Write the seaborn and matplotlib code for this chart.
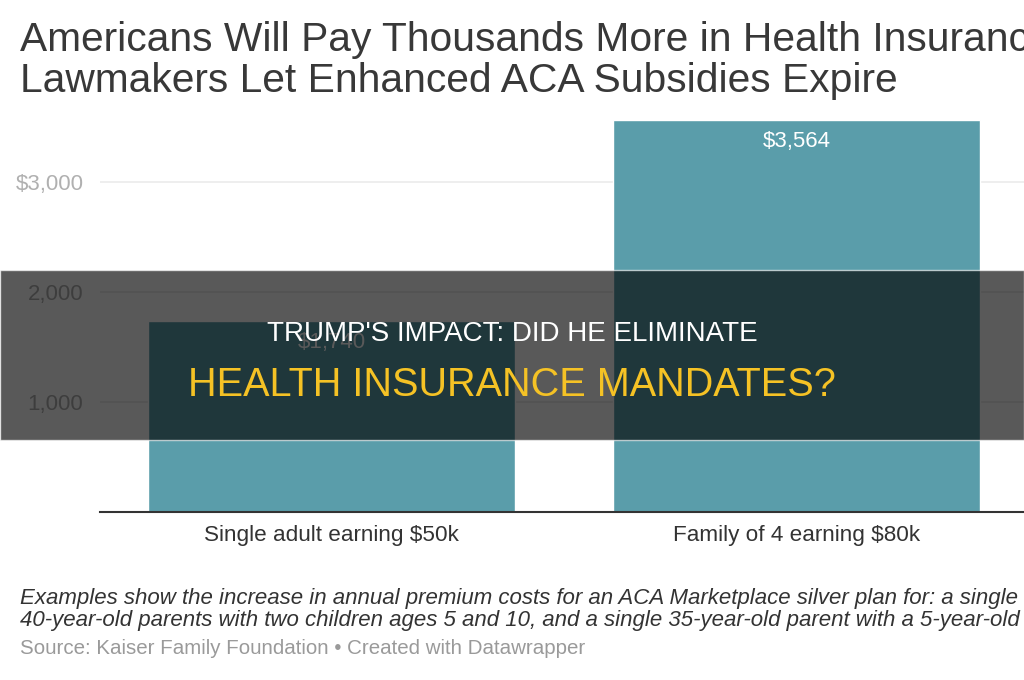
import matplotlib
matplotlib.use("Agg")
import matplotlib.pyplot as plt
from matplotlib.patches import Rectangle
import seaborn as sns

# data
categories = ["Single adult earning $50k", "Family of 4 earning $80k"]
increase = [1740, 3564]
y_ticks = [1000, 2000, 3000]
y_tick_labels = ["1,000", "2,000", "$3,000"]

title_lines = ["Americans Will Pay Thousands More in Health Insurance if",
               "Lawmakers Let Enhanced ACA Subsidies Expire"]
note_lines = ["Examples show the increase in annual premium costs for an ACA Marketplace silver plan for: a single 50-year-old earning $50k, two",
              "40-year-old parents with two children ages 5 and 10, and a single 35-year-old parent with a 5-year-old child"]
source = "Source: Kaiser Family Foundation \u2022 Created with Datawrapper"
banner_top = "TRUMP'S IMPACT: DID HE ELIMINATE"
banner_bottom = "HEALTH INSURANCE MANDATES?"

sns.set_theme(style="white")
plt.rcParams["font.family"] = ["Liberation Sans", "DejaVu Sans"]

W, H = 1024, 680
fig = plt.figure(figsize=(W / 100, H / 100), dpi=100)
fig.patch.set_facecolor("white")

# axes placed in pixel terms: left 100, bottom at y=512, top at y=112
ax = fig.add_axes([100 / W, (H - 512) / H, (W - 100) / W, 400 / H])
sns.barplot(x=categories, y=increase, color="#5a9daa", saturation=1,
            width=0.79, ax=ax)
ax.set_ylim(0, 400 / 110 * 1000)
ax.set_xlim(-(331.5 - 100) / 465, (W - 331.5) / 465)

ax.set_yticks(y_ticks)
ax.set_yticklabels(y_tick_labels, color="#b0b0b0", fontsize=16)
ax.tick_params(axis="y", length=0, pad=12)
ax.tick_params(axis="x", length=0, pad=9, labelsize=16.2, labelcolor="#333333")
ax.yaxis.grid(True, color="#ebebeb", lw=1.2)
ax.set_axisbelow(True)
for s in ["top", "right", "left"]:
    ax.spines[s].set_visible(False)
ax.spines["bottom"].set_color("#333333")
ax.spines["bottom"].set_linewidth(1.5)
ax.set_xlabel("")
ax.set_ylabel("")

for i, v in enumerate(increase):
    ax.annotate(f"${v:,}", (i, v), xytext=(0, -8), textcoords="offset points",
                ha="center", va="top", color="white", fontsize=16)

# title
fig.text(20 / W, 1 - 51 / H, title_lines[0], fontsize=29.3, color="#383838", va="baseline")
fig.text(20 / W, 1 - 92 / H, title_lines[1], fontsize=29.3, color="#383838", va="baseline")

# notes
fig.text(20 / W, 1 - 604 / H, note_lines[0], fontsize=16, color="#333333",
         style="italic", va="baseline")
fig.text(20 / W, 1 - 626 / H, note_lines[1], fontsize=16, color="#333333",
         style="italic", va="baseline")
fig.text(20 / W, 1 - 654 / H, source, fontsize=14.8, color="#9a9a9a", va="baseline")

# dark banner overlay
fig.patches.append(Rectangle((0, 1 - 440 / H), 1, 170 / H, transform=fig.transFigure,
                             facecolor="black", alpha=0.65, zorder=10))
fig.text(0.5, 1 - 334 / H, banner_top, fontsize=20, color="white",
         ha="center", va="center", zorder=11)
fig.text(0.5, 1 - 385 / H, banner_bottom, fontsize=28.5, color="#f5c225",
         ha="center", va="center", zorder=11)

fig.savefig("out.png", dpi=100)
